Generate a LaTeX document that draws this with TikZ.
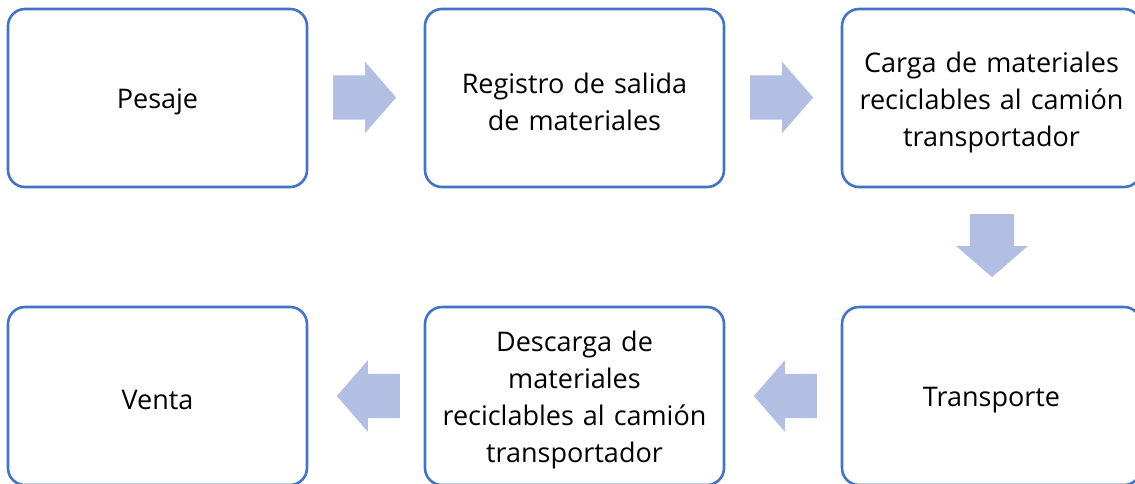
\documentclass[tikz,border=0pt]{standalone}
\usepackage{fontspec}
\setmainfont{Open Sans}
\usetikzlibrary{shapes.arrows}
\definecolor{boxblue}{RGB}{68,114,196}
\definecolor{arrowfill}{RGB}{178,190,226}
\begin{document}
\begin{tikzpicture}[x=1pt,y=-1pt,
  stepbox/.style={draw=boxblue,line width=2.6pt,rounded corners=17pt,minimum width=299pt,minimum height=178pt,inner sep=0pt},
  steptext/.style={align=center,font=\fontsize{27}{37}\selectfont,text width=290pt,inner sep=0pt,yshift=-4pt},
  flowarrow/.style={fill=arrowfill,draw=none,single arrow,single arrow head extend=13.5pt,single arrow tip angle=98,minimum height=63pt,inner xsep=0pt,inner ysep=22pt},
  vflowarrow/.style={flowarrow,inner xsep=22pt,inner ysep=0pt,shape border rotate=270}]
\useasboundingbox (0,0) rectangle (1135,483);
\node[stepbox] (b1) at (157.5,98) {};
\node[stepbox] (b2) at (574.5,98) {};
\node[stepbox] (b3) at (991.5,98) {};
\node[stepbox] (b4) at (991.5,396) {};
\node[stepbox] (b5) at (574.5,396) {};
\node[stepbox] (b6) at (157.5,396) {};
\node[steptext] (t1) at (b1.center) {Pesaje};
\node[steptext] (t2) at (b2.center) {Registro de salida\\de materiales};
\node[steptext] (t3) at (b3.center) {Carga de materiales\\reciclables al camión\\transportador};
\node[steptext] (t4) at (b4.center) {Transporte};
\node[steptext] (t5) at (b5.center) {Descarga de\\materiales\\reciclables al camión\\transportador};
\node[steptext] (t6) at (b6.center) {Venta};
\node[flowarrow] (a1) at (355,97.5) {};
\node[flowarrow] (a2) at (772,97.5) {};
\node[vflowarrow] (a3) at (992,236) {};
\node[flowarrow,shape border rotate=180] (a4) at (795,396) {};
\node[flowarrow,shape border rotate=180] (a5) at (378,396) {};
\end{tikzpicture}
\end{document}
